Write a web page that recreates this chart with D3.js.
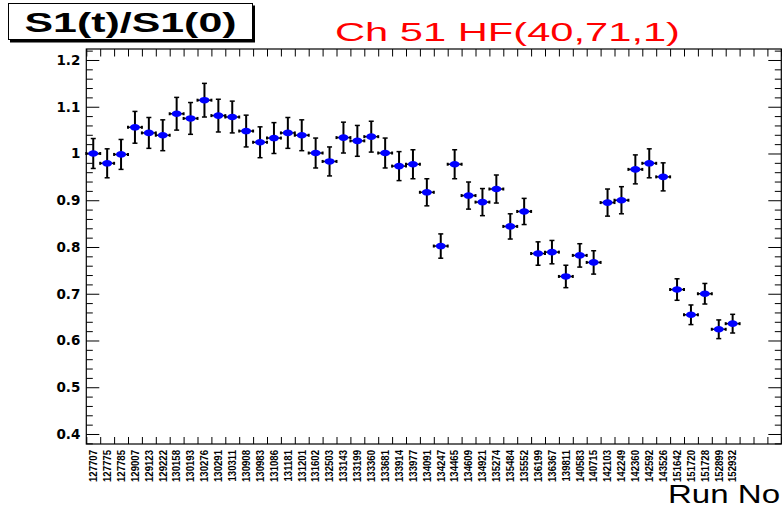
<!DOCTYPE html>
<html>
<head>
<meta charset="utf-8">
<script src="https://cdn.jsdelivr.net/npm/d3@7/dist/d3.min.js"></script>
<style>
  body { margin: 0; background: #fff; }
  .axis path { display: none; }
  .axis line { stroke: #000; stroke-width: 1; }
</style>
</head>
<body>
<script>
let svgWidth = 782
let svgHeight = 508

// run numbers (x categories)
let runs = ["127707", "127775", "127785", "129007", "129123", "129222", "130158", "130193",
    "130276", "130291", "130311", "130908", "130983", "131086", "131181", "131201", "131602",
    "132503", "133143", "133199", "133360", "133681", "133914", "133977", "134091", "134247",
    "134465", "134609", "134921", "135274", "135484", "135552", "136199", "136367", "139811",
    "140583", "140715", "142103", "142249", "142360", "142592", "143526", "151642", "151720",
    "151728", "152899", "152932"]

// S1(t)/S1(0) per run
let ratio = [1.000, 0.979, 0.998, 1.056, 1.044, 1.039, 1.085, 1.075, 1.114, 1.081, 1.078,
    1.048, 1.024, 1.033, 1.044, 1.039, 1.001, 0.983, 1.034, 1.027, 1.036, 1.001, 0.973,
    0.977, 0.917, 0.802, 0.977, 0.910, 0.896, 0.924, 0.844, 0.876, 0.786, 0.789, 0.737,
    0.782, 0.767, 0.895, 0.900, 0.966, 0.979, 0.950, 0.709, 0.655, 0.700, 0.624, 0.636]

// error on the ratio
let ratioErr = [0.032, 0.031, 0.032, 0.034, 0.033, 0.033, 0.035, 0.034, 0.036, 0.035, 0.034,
    0.034, 0.033, 0.033, 0.033, 0.033, 0.032, 0.031, 0.033, 0.033, 0.033, 0.032, 0.031,
    0.031, 0.029, 0.026, 0.031, 0.029, 0.029, 0.030, 0.027, 0.028, 0.025, 0.025, 0.024,
    0.025, 0.025, 0.029, 0.029, 0.031, 0.031, 0.030, 0.023, 0.021, 0.022, 0.020, 0.020]

let yMajor = [0.4, 0.5, 0.6, 0.7, 0.8, 0.9, 1.0, 1.1, 1.2]
let yMinor = [0.38, 0.42, 0.44, 0.46, 0.48, 0.52, 0.54, 0.56, 0.58, 0.62, 0.64, 0.66, 0.68,
    0.72, 0.74, 0.76, 0.78, 0.82, 0.84, 0.86, 0.88, 0.92, 0.94, 0.96, 0.98, 1.02, 1.04,
    1.06, 1.08, 1.12, 1.14, 1.16, 1.18, 1.22]
let nBins = 50

let frame = { left: 86.3, right: 781.3, top: 49, bottom: 444 }

let xScale = d3.scaleLinear()
    .domain([0, nBins])
    .range([frame.left, frame.right])

let yScale = d3.scaleLinear()
    .domain([0.3786, 1.2235])
    .range([frame.bottom, frame.top])

let svg = d3.select("body")
    .append("svg")
    .attr("width", svgWidth)
    .attr("height", svgHeight)

svg.append("rect")
    .attr("width", svgWidth)
    .attr("height", svgHeight)
    .attr("fill", "#fff")

let binEdges = d3.range(nBins + 1)

// left axis
svg.append("g")
    .attr("class", "axis")
    .attr("transform", "translate(" + frame.left + ",0)")
    .call(d3.axisLeft(yScale).tickValues(yMinor).tickSize(-6.5).tickSizeOuter(0).tickFormat(""))
let yAxisG = svg.append("g")
    .attr("class", "axis")
    .attr("transform", "translate(" + frame.left + ",0)")
    .call(d3.axisLeft(yScale).tickValues(yMajor).tickSize(-13).tickSizeOuter(0)
        .tickPadding(6).tickFormat(d => d === 1 ? "1" : d3.format(".1f")(d)))
yAxisG.selectAll("text")
    .attr("font-family", "'DejaVu Sans', sans-serif")
    .attr("font-weight", "bold")
    .attr("font-size", 13.5)
    .attr("fill", "#000")

// right axis
svg.append("g")
    .attr("class", "axis")
    .attr("transform", "translate(" + frame.right + ",0)")
    .call(d3.axisRight(yScale).tickValues(yMinor).tickSize(-6.5).tickSizeOuter(0).tickFormat(""))
svg.append("g")
    .attr("class", "axis")
    .attr("transform", "translate(" + frame.right + ",0)")
    .call(d3.axisRight(yScale).tickValues(yMajor).tickSize(-13).tickSizeOuter(0).tickFormat(""))

// top and bottom ticks at every bin edge
svg.append("g")
    .attr("class", "axis")
    .attr("transform", "translate(0," + frame.top + ")")
    .call(d3.axisTop(xScale).tickValues(binEdges).tickSize(-7.5).tickSizeOuter(0).tickFormat(""))
svg.append("g")
    .attr("class", "axis")
    .attr("transform", "translate(0," + frame.bottom + ")")
    .call(d3.axisBottom(xScale).tickValues(binEdges).tickSize(-7).tickSizeOuter(0).tickFormat(""))

// frame
svg.append("rect")
    .attr("x", frame.left)
    .attr("y", frame.top)
    .attr("width", frame.right - frame.left)
    .attr("height", frame.bottom - frame.top)
    .attr("fill", "none")
    .attr("stroke", "#000")
    .attr("stroke-width", 1.2)

// run number labels, vertical (slightly stretched like the ROOT canvas)
svg.append("g")
    .selectAll("text")
    .data(runs)
    .enter()
    .append("text")
    .attr("transform", (d, i) => "translate(" + (xScale(i + 0.5) + 3.8) + "," + (frame.bottom + 6) + ") scale(1.15,1) rotate(-90)")
    .attr("text-anchor", "end")
    .attr("font-family", "'Liberation Sans', Arial, sans-serif")
    .attr("font-weight", "bold")
    .attr("font-size", 9.6)
    .attr("fill", "#000")
    .text(d => d)

// error bars
let pts = svg.append("g")
    .selectAll("g")
    .data(ratio)
    .enter()
    .append("g")

pts.append("line")
    .attr("x1", (d, i) => xScale(i))
    .attr("x2", (d, i) => xScale(i + 1))
    .attr("y1", d => yScale(d))
    .attr("y2", d => yScale(d))
    .attr("stroke", "#000")
    .attr("stroke-width", 1.5)
pts.append("line")
    .attr("x1", (d, i) => xScale(i + 0.5))
    .attr("x2", (d, i) => xScale(i + 0.5))
    .attr("y1", (d, i) => yScale(d - ratioErr[i]))
    .attr("y2", (d, i) => yScale(d + ratioErr[i]))
    .attr("stroke", "#000")
    .attr("stroke-width", 2)
// end caps
pts.each(function (d, i) {
    let g = d3.select(this)
    let cx = xScale(i + 0.5)
    ;[d - ratioErr[i], d + ratioErr[i]].forEach(v => {
        g.append("line")
            .attr("x1", cx - 2.5).attr("x2", cx + 2.5)
            .attr("y1", yScale(v)).attr("y2", yScale(v))
            .attr("stroke", "#000").attr("stroke-width", 1.5)
    })
    ;[xScale(i), xScale(i + 1)].forEach(xv => {
        g.append("line")
            .attr("x1", xv).attr("x2", xv)
            .attr("y1", yScale(d) - 1.5).attr("y2", yScale(d) + 1.5)
            .attr("stroke", "#000").attr("stroke-width", 2)
    })
})
pts.append("ellipse")
    .attr("cx", (d, i) => xScale(i + 0.5))
    .attr("cy", d => yScale(d))
    .attr("rx", 5)
    .attr("ry", 3.3)
    .attr("fill", "#0000ff")

// title box with shadow
svg.append("rect")
    .attr("x", 10).attr("y", 5.5)
    .attr("width", 245).attr("height", 37)
    .attr("fill", "#000")
svg.append("rect")
    .attr("x", 8.5).attr("y", 3.5)
    .attr("width", 244).attr("height", 36)
    .attr("fill", "#fff")
    .attr("stroke", "#000")
    .attr("stroke-width", 1)
svg.append("text")
    .attr("x", 130.5)
    .attr("y", 32)
    .attr("text-anchor", "middle")
    .attr("font-family", "'Liberation Sans', Arial, sans-serif")
    .attr("font-weight", "bold")
    .attr("font-size", 28)
    .attr("textLength", 212)
    .attr("lengthAdjust", "spacingAndGlyphs")
    .text("S1(t)/S1(0)")

svg.append("text")
    .attr("x", 335)
    .attr("y", 41)
    .attr("font-family", "'Liberation Sans', Arial, sans-serif")
    .attr("font-size", 25)
    .attr("fill", "#ff0000")
    .attr("textLength", 345)
    .attr("lengthAdjust", "spacingAndGlyphs")
    .text("Ch 51 HF(40,71,1)")

// x axis title
svg.append("text")
    .attr("x", 668)
    .attr("y", 503)
    .attr("font-family", "'Liberation Sans', Arial, sans-serif")
    .attr("font-size", 25)
    .attr("fill", "#000")
    .attr("textLength", 112)
    .attr("lengthAdjust", "spacingAndGlyphs")
    .text("Run No")
</script>
</body>
</html>
